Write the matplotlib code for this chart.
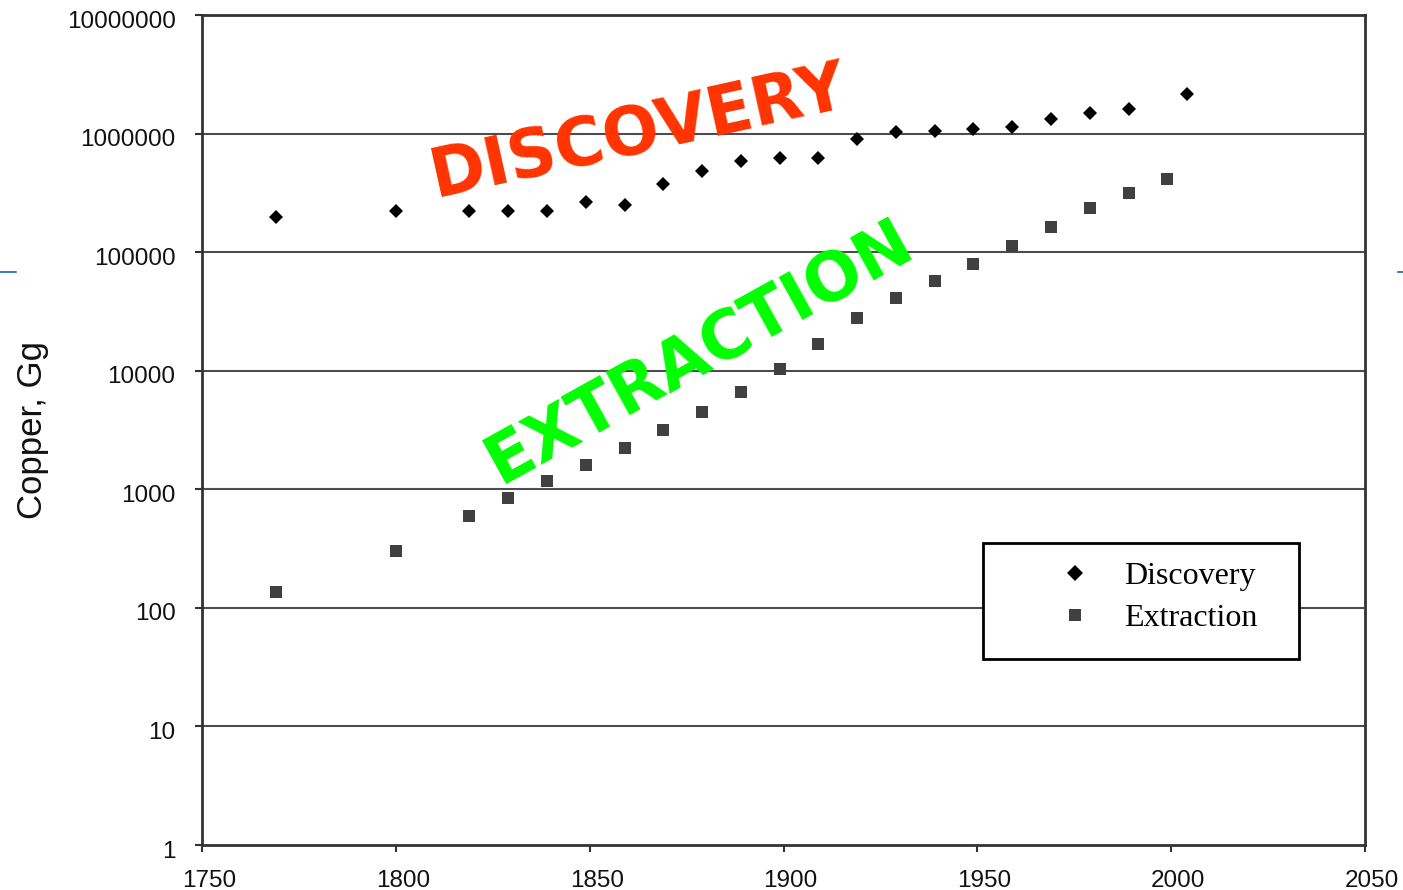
import matplotlib
matplotlib.use("Agg")
import matplotlib.pyplot as plt
import matplotlib.transforms as mtransforms
from matplotlib.patches import Rectangle
from matplotlib.lines import Line2D

# ---- data ----
disc_years = [1769, 1800, 1819, 1829, 1839, 1849, 1859, 1869, 1879, 1889, 1899,
              1909, 1919, 1929, 1939, 1949, 1959, 1969, 1979, 1989, 2004]
disc_values = [198000, 222000, 222000, 222000, 222000, 265000, 250000, 376000,
               483000, 587000, 623000, 623000, 900000, 1030000, 1050000,
               1090000, 1140000, 1330000, 1490000, 1610000, 2160000]

extr_years = [1769, 1800, 1819, 1829, 1839, 1849, 1859, 1869, 1879, 1889, 1899,
              1909, 1919, 1929, 1939, 1949, 1959, 1969, 1979, 1989, 1999]
extr_values = [136, 301, 596, 844, 1174, 1603, 2230, 3162, 4485, 6610, 10300,
               16800, 27800, 41000, 57100, 79400, 113000, 163000, 235000,
               315000, 414000]

x_ticks = [1750, 1800, 1850, 1900, 1950, 2000, 2050]
y_ticks = [1, 10, 100, 1000, 10000, 100000, 1000000, 10000000]
y_tick_labels = ["1", "10", "100", "1000", "10000", "100000", "1000000", "10000000"]

series_labels = ["Discovery", "Extraction"]
y_label = "Copper, Gg"
overlay_texts = ["DISCOVERY", "EXTRACTION"]

# ---- figure ----
fig = plt.figure(figsize=(14.03, 8.90), dpi=100)
ax = fig.add_axes([202 / 1403, 1 - 845 / 890, (1365 - 202) / 1403, (845 - 15) / 890])

ax.set_yscale("log")
ax.set_xlim(1750, 2050)
ax.set_ylim(1, 1e7)

grid_color = "#4d4d4d"
for v in y_ticks[1:-1]:
    ax.axhline(v, color=grid_color, lw=1.5, zorder=1)

ax.plot(disc_years, disc_values, linestyle="none", marker="D", markersize=7.5,
        color="black", markeredgewidth=0, zorder=3, label=series_labels[0])
ax.plot(extr_years, extr_values, linestyle="none", marker="s", markersize=8,
        color="#404040", markeredgewidth=0, zorder=3, label=series_labels[1])

ax.set_xticks(x_ticks)
ax.set_xticklabels([str(t) for t in x_ticks])
ax.set_yticks(y_ticks)
ax.set_yticklabels(y_tick_labels)
ax.yaxis.set_minor_locator(matplotlib.ticker.NullLocator())

ax.tick_params(axis="y", direction="out", length=5, width=1.5, color="#333333", pad=14)
ax.tick_params(axis="x", direction="out", length=5, width=1.5, color="#333333", pad=13)

x_off = mtransforms.ScaledTranslation(7 / 100, 0, fig.dpi_scale_trans)
y_off = mtransforms.ScaledTranslation(0, -4 / 100, fig.dpi_scale_trans)
for lab in ax.get_xticklabels():
    lab.set_transform(lab.get_transform() + x_off)
for lab in ax.get_yticklabels():
    lab.set_transform(lab.get_transform() + y_off)
for lab in ax.get_xticklabels() + ax.get_yticklabels():
    lab.set_fontfamily(["Liberation Sans", "DejaVu Sans"])
    lab.set_fontsize(17.5)
    lab.set_color("#111111")

for sp in ax.spines.values():
    sp.set_color("#333333")
    sp.set_linewidth(2)

fig.text(33 / 1403, 1 - 430 / 890, y_label, rotation=90, ha="center", va="center",
         fontsize=25, family=["Liberation Sans", "DejaVu Sans"], color="#111111")

# ---- legend box + legend ----
box_x0, box_y0 = (983 - 202) / 1163, (845 - 659) / 830
box_w, box_h = (1299 - 983) / 1163, (659 - 543) / 830
ax.add_patch(Rectangle((box_x0, box_y0), box_w, box_h, transform=ax.transAxes,
                       facecolor="white", edgecolor="black", linewidth=2, zorder=4))
leg = ax.legend(loc="upper left", bbox_to_anchor=((1043 - 202) / 1163, (845 - 562) / 830),
                frameon=False, prop={"family": ["Liberation Serif", "DejaVu Serif"], "size": 23},
                handlelength=2.0, handletextpad=0.55, borderpad=0.0, labelspacing=0.4,
                borderaxespad=0.0, markerscale=1.15)
leg.set_zorder(5)

# ---- overlay annotations ----
ax.text(0.376, 0.858, overlay_texts[0], transform=ax.transAxes, rotation=12.5,
        rotation_mode="anchor", ha="center", va="center", fontsize=48,
        fontweight="bold", family="DejaVu Sans", color="#ff3300", zorder=6)
ax.text(0.428, 0.594, overlay_texts[1], transform=ax.transAxes, rotation=29,
        rotation_mode="anchor", ha="center", va="center", fontsize=48,
        fontweight="bold", family="DejaVu Sans", color="#00ff00", zorder=6)

# small blue marks at the page edges
fig.add_artist(Line2D([0, 16 / 1403], [1 - 272 / 890] * 2, color="#1f5fbf", lw=1.2))
fig.add_artist(Line2D([1398 / 1403, 1], [1 - 272 / 890] * 2, color="#1f5fbf", lw=1.2))

fig.savefig("out.png", dpi=100, facecolor="white")
